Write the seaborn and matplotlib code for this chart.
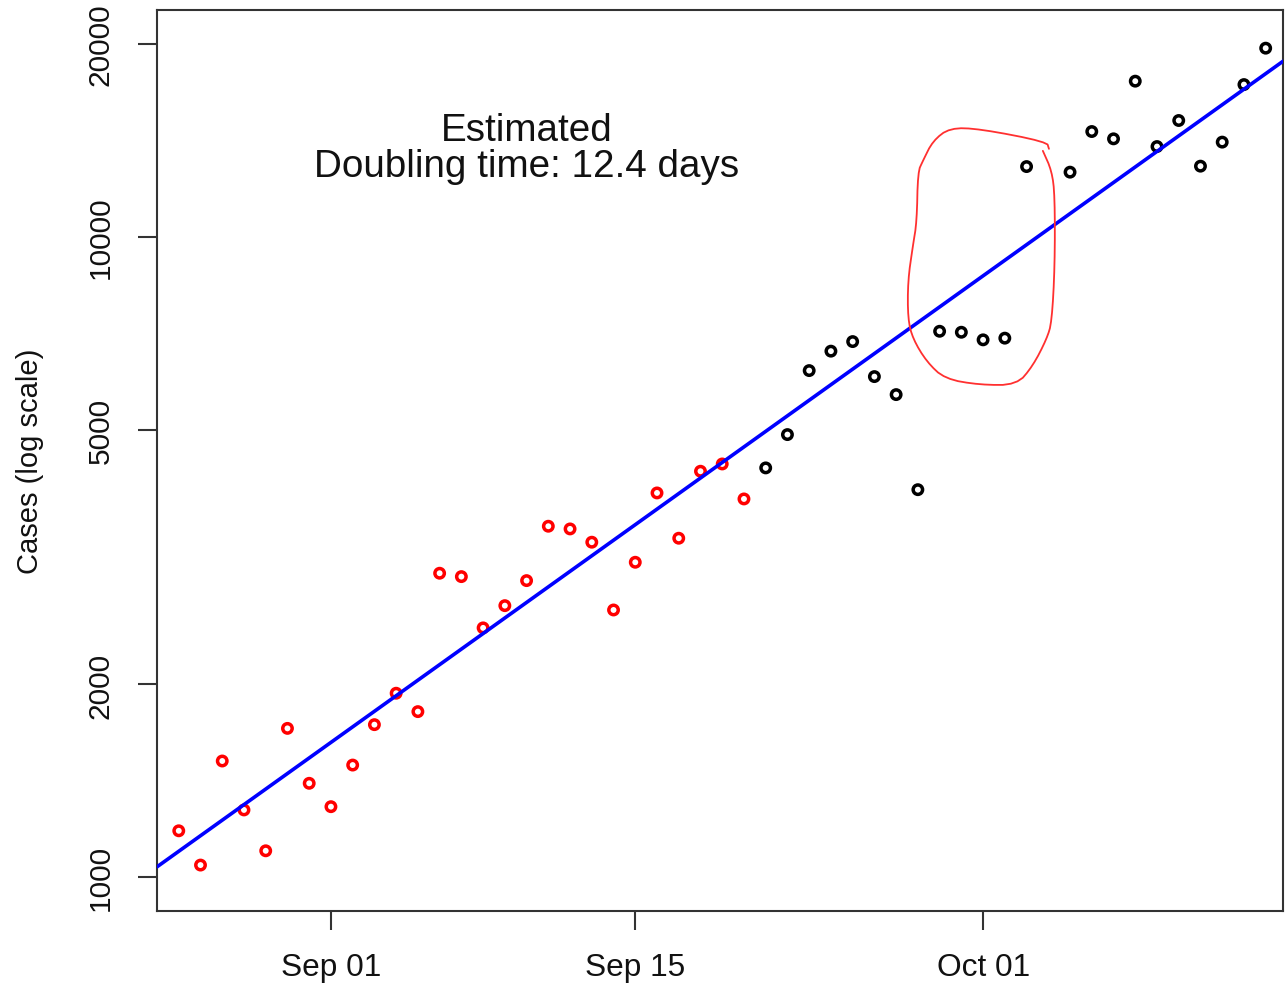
import numpy as np
import pandas as pd
import matplotlib
matplotlib.use("Agg")
import matplotlib.pyplot as plt
from matplotlib.ticker import NullLocator
import seaborn as sns

# Daily cases used for the exponential fit (red)
fit_dates = pd.date_range("2020-08-25", "2020-09-20", freq="D")
fit_cases = [1182, 1045, 1519, 1274, 1100, 1708, 1402,
             1289, 1497, 1731, 1938, 1814, 2983, 2947, 2451, 2655, 2905,
             3532, 3498, 3335, 2614, 3103, 3981, 3383, 4304, 4418, 3896]

# Later daily cases (black)
recent_dates = pd.to_datetime([
    "2020-09-21", "2020-09-22", "2020-09-23", "2020-09-24", "2020-09-25",
    "2020-09-26", "2020-09-27", "2020-09-28", "2020-09-29", "2020-09-30",
    "2020-10-01", "2020-10-02", "2020-10-03", "2020-10-05", "2020-10-06",
    "2020-10-07", "2020-10-08", "2020-10-09", "2020-10-10", "2020-10-11",
    "2020-10-12", "2020-10-13", "2020-10-14"])
recent_cases = [4356, 4910, 6180, 6627, 6859, 6048, 5669, 4028, 7118, 7093,
                6902, 6944, 12866, 12610, 14593, 14215, 17489, 13826, 15183,
                12885, 14048, 17276, 19691]

# Exponential trend: doubling time and level on the reference date
doubling_days = 12.4
anchor_date = pd.Timestamp("2020-09-01")
anchor_cases = 1624

# Axis ticks
y_ticks = [1000, 2000, 5000, 10000, 20000]
x_tick_dates = pd.to_datetime(["2020-09-01", "2020-09-15", "2020-10-01"])
x_tick_labels = ["Sep 01", "Sep 15", "Oct 01"]

# Hand-drawn loop around the late-September plateau
# (days after Sep 1, case level)
loop_days = [32.75, 33.16, 33.30, 33.30, 33.16, 32.93, 32.29, 31.55, 29.85,
             28.24, 27.41, 26.77, 26.54, 26.54, 26.77, 26.95, 27.00, 27.23,
             27.69, 28.47, 29.85, 32.93, 33.03]
loop_cases = [13614, 12668, 11580, 9000, 7360, 6927, 6285, 5870, 5870,
              5998, 6376, 6927, 7440, 8531, 9675, 10547, 12622, 13131,
              14113, 14787, 14734, 14063, 13713]


def chaikin(xs, ys, rounds=2):
    """Corner-cutting smoothing of an open polyline."""
    xs, ys = np.asarray(xs, float), np.asarray(ys, float)
    for _ in range(rounds):
        qx = 0.75 * xs[:-1] + 0.25 * xs[1:]
        qy = 0.75 * ys[:-1] + 0.25 * ys[1:]
        rx = 0.25 * xs[:-1] + 0.75 * xs[1:]
        ry = 0.25 * ys[:-1] + 0.75 * ys[1:]
        nx = np.empty(2 * len(qx))
        ny = np.empty(2 * len(qy))
        nx[0::2], nx[1::2] = qx, rx
        ny[0::2], ny[1::2] = qy, ry
        xs = np.concatenate([[xs[0]], nx, [xs[-1]]])
        ys = np.concatenate([[ys[0]], ny, [ys[-1]]])
    return xs, ys


sns.set_style("ticks")
plt.rcParams["font.family"] = ["Liberation Sans", "DejaVu Sans"]

fig = plt.figure(figsize=(12.85, 9.87), dpi=100)
ax = fig.add_axes([0.1222, 0.0760, 0.8763, 0.9129])

fit_df = pd.DataFrame({"date": fit_dates, "cases": fit_cases})
recent_df = pd.DataFrame({"date": recent_dates, "cases": recent_cases})

sns.scatterplot(data=fit_df, x="date", y="cases", ax=ax, s=46,
                color="#ff0000", facecolor="none", edgecolor="#ff0000",
                linewidth=2.5, zorder=3)
sns.scatterplot(data=recent_df, x="date", y="cases", ax=ax, s=46,
                color="#000000", facecolor="none", edgecolor="#000000",
                linewidth=2.5, zorder=3)

# Trend line across the full plotting range
x_lo_days, x_hi_days = -8.0, 43.8
line_days = np.array([x_lo_days, x_hi_days])
line_df = pd.DataFrame({
    "date": anchor_date + pd.to_timedelta(line_days, unit="D"),
    "cases": anchor_cases * 2.0 ** (line_days / doubling_days),
})
sns.lineplot(data=line_df, x="date", y="cases", ax=ax, color="#0000ff",
             linewidth=2.6, zorder=4)

# Freehand loop, smoothed in log space
sx, sy = chaikin(loop_days, np.log10(loop_cases))
loop_dates = anchor_date + pd.to_timedelta(sx, unit="D")
ax.plot(loop_dates, 10 ** sy, color="#ff3030", linewidth=1.3, zorder=5)

ax.text(anchor_date + pd.Timedelta(days=9), 13750,
        f"Estimated\nDoubling time: {doubling_days} days",
        ha="center", va="center", multialignment="center",
        fontsize=27.8, linespacing=1.0, color="#111111")

ax.set_yscale("log")
ax.set_xlim(anchor_date + pd.Timedelta(days=x_lo_days),
            anchor_date + pd.Timedelta(days=x_hi_days))
ax.set_ylim(886, 22590)

ax.set_yticks(y_ticks, labels=[str(v) for v in y_ticks])
ax.yaxis.set_minor_locator(NullLocator())
ax.set_xticks(x_tick_dates, labels=x_tick_labels)
ax.xaxis.set_minor_locator(NullLocator())
for lab in ax.get_yticklabels():
    lab.set_rotation(90)
    lab.set_va("center")

ax.tick_params(axis="both", which="major", direction="out", length=13.5,
               width=1.5, color="#333333", labelcolor="#111111")
ax.tick_params(axis="x", pad=16, labelsize=22.8)
ax.tick_params(axis="y", pad=17, labelsize=21.5)

ax.set_xlabel("")
ax.set_ylabel("Cases (log scale)", fontsize=21, color="#111111", labelpad=31)

for spine in ax.spines.values():
    spine.set_visible(True)
    spine.set_linewidth(1.5)
    spine.set_color("#333333")

fig.savefig("out.png", dpi=100)
